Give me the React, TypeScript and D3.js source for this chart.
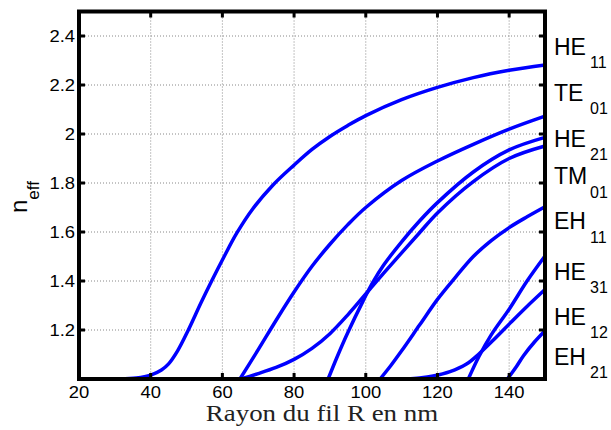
import React from "react";
import * as d3 from "d3";

// ---- data (R in nm, n_eff) ----
const HE11: [number, number][] = [
  [31.4, 1], [36, 1.004], [40, 1.016], [43, 1.037], [45, 1.062], [47.5, 1.115], [50.5, 1.2],
  [54, 1.31], [57, 1.4], [60.5, 1.5], [64, 1.595], [68.5, 1.695], [74, 1.79], [80, 1.873],
  [85, 1.937], [90, 1.99], [95, 2.035], [100, 2.075], [110, 2.14], [120, 2.19],
  [130, 2.23], [140, 2.26], [150, 2.282],
];
const TE01: [number, number][] = [
  [64.9, 1], [70, 1.12], [75, 1.24], [80, 1.355], [85, 1.46], [90, 1.55], [95, 1.63],
  [100, 1.7], [110, 1.81], [120, 1.89], [130, 1.958], [140, 2.02], [150, 2.073],
];
const HE21: [number, number][] = [
  [89.5, 1], [92, 1.09], [95, 1.19], [99.3, 1.32], [102, 1.395], [105, 1.465], [110, 1.56],
  [115, 1.645], [120, 1.72], [130, 1.845], [140, 1.935], [150, 1.986],
];
const TM01: [number, number][] = [
  [65, 1], [70, 1.022], [75, 1.047], [80, 1.08], [85, 1.125], [90, 1.185], [95, 1.262],
  [100, 1.347], [105, 1.432], [110, 1.515], [115, 1.597], [120, 1.678], [130, 1.806], [140, 1.9], [150, 1.951],
];
const EH11: [number, number][] = [
  [104, 1], [107, 1.055], [110, 1.115], [115, 1.22], [120, 1.325], [125, 1.415], [130, 1.5],
  [135, 1.565], [140, 1.618], [145, 1.662], [150, 1.703],
];
const HE31: [number, number][] = [
  [128.6, 1], [131.5, 1.09], [135, 1.18], [140, 1.285], [145, 1.4], [150, 1.502],
];
const HE12: [number, number][] = [
  [111.4, 1], [115, 1.004], [118.8, 1.012], [123.5, 1.03], [128.1, 1.061], [131.4, 1.1],
  [135.6, 1.159], [140.2, 1.227], [144.9, 1.295], [150, 1.365],
];
const EH21: [number, number][] = [
  [139.5, 1], [142, 1.05], [144, 1.095], [147, 1.15], [150, 1.197],
];
const curves = [HE11, TE01, HE21, TM01, EH11, HE31, HE12, EH21];

const modeNames = ["HE", "TE", "HE", "TM", "EH", "HE", "HE", "EH"];
const modeSubs = ["11", "01", "21", "01", "11", "31", "12", "21"];
const modeLabelN = [2.322, 2.135, 1.948, 1.795, 1.611, 1.404, 1.22, 1.057];

const xTicks = [20, 40, 60, 80, 100, 120, 140];
const yTicks = [1.2, 1.4, 1.6, 1.8, 2, 2.2, 2.4];
const xLabel = "Rayon du fil R en nm";

// ---- layout ----
const W = 611, H = 430;
const L = 79, R = 545, T = 11.5, B = 379;

export default function App() {
  const x = d3.scaleLinear().domain([20, 150]).range([L, R]);
  const y = d3.scaleLinear().domain([1, 2.5]).range([B, T]);
  const line = d3
    .line<[number, number]>()
    .x((d) => x(d[0]))
    .y((d) => y(d[1]))
    .curve(d3.curveCatmullRom.alpha(0.5));
  const sans = "'Liberation Sans', Arial, Helvetica, sans-serif";
  const gridX = xTicks.filter((t) => t > 20);
  return (
    <svg width={W} height={H} style={{ position: "absolute", left: 0, top: 0, background: "#fff" }}>
      <rect x={0} y={0} width={W} height={H} fill="#fff" />
      <defs>
        <clipPath id="clip">
          <rect x={L} y={T} width={R - L + 2} height={B - T} />
        </clipPath>
      </defs>
      {/* grid */}
      {gridX.map((t) => (
        <line key={"gx" + t} x1={x(t)} x2={x(t)} y1={T} y2={B} stroke="#888" strokeWidth={1} strokeDasharray="1,2" />
      ))}
      {yTicks.map((t) => (
        <line key={"gy" + t} x1={L} x2={R} y1={y(t)} y2={y(t)} stroke="#888" strokeWidth={1} strokeDasharray="1,2" />
      ))}
      {/* curves */}
      <g clipPath="url(#clip)">
        {curves.map((c, i) => (
          <path key={i} d={line(c) || ""} fill="none" stroke="#0000ff" strokeWidth={3.5} />
        ))}
      </g>
      {/* ticks */}
      {gridX.map((t) => (
        <g key={"tx" + t}>
          <line x1={x(t)} x2={x(t)} y1={B} y2={B - 6} stroke="#000" strokeWidth={3} />
          <line x1={x(t)} x2={x(t)} y1={T} y2={T + 6} stroke="#000" strokeWidth={3} />
        </g>
      ))}
      {yTicks.map((t) => (
        <g key={"ty" + t}>
          <line x1={L} x2={L + 6} y1={y(t)} y2={y(t)} stroke="#000" strokeWidth={3} />
          <line x1={R} x2={R - 6} y1={y(t)} y2={y(t)} stroke="#000" strokeWidth={3} />
        </g>
      ))}
      {/* frame */}
      <rect x={L} y={T} width={R - L} height={B - T} fill="none" stroke="#000" strokeWidth={4} />
      {/* tick labels */}
      {xTicks.map((t) => (
        <text key={"lx" + t} transform={`translate(${x(t)},397.5) scale(1.15,1)`} textAnchor="middle"
          fontFamily={sans} fontSize={16} fill="#000">{t}</text>
      ))}
      {yTicks.map((t) => (
        <text key={"ly" + t} transform={`translate(75,${y(t) + 6}) scale(1.15,1)`} textAnchor="end"
          fontFamily={sans} fontSize={16} fill="#000">{String(t)}</text>
      ))}
      {/* axis labels */}
      <text transform={`translate(${(198 + 446) / 2},421) scale(1.17,1)`} textAnchor="middle"
        fontFamily="'Liberation Serif', 'Times New Roman', serif" fontSize={23} fill="#222">{xLabel}</text>
      <text transform="translate(27,213) rotate(-90)" fontFamily={sans} fontSize={24} fill="#000">
        n<tspan dy={12} fontSize={17}>eff</tspan>
      </text>
      {/* mode labels */}
      {modeNames.map((m, i) => (
        <text key={"m" + i} x={554} y={y(modeLabelN[i])} fontFamily={sans} fontSize={23} fill="#000">
          {m}
          <tspan x={590} dy={13.3} fontSize={16}>{modeSubs[i]}</tspan>
        </text>
      ))}
    </svg>
  );
}
